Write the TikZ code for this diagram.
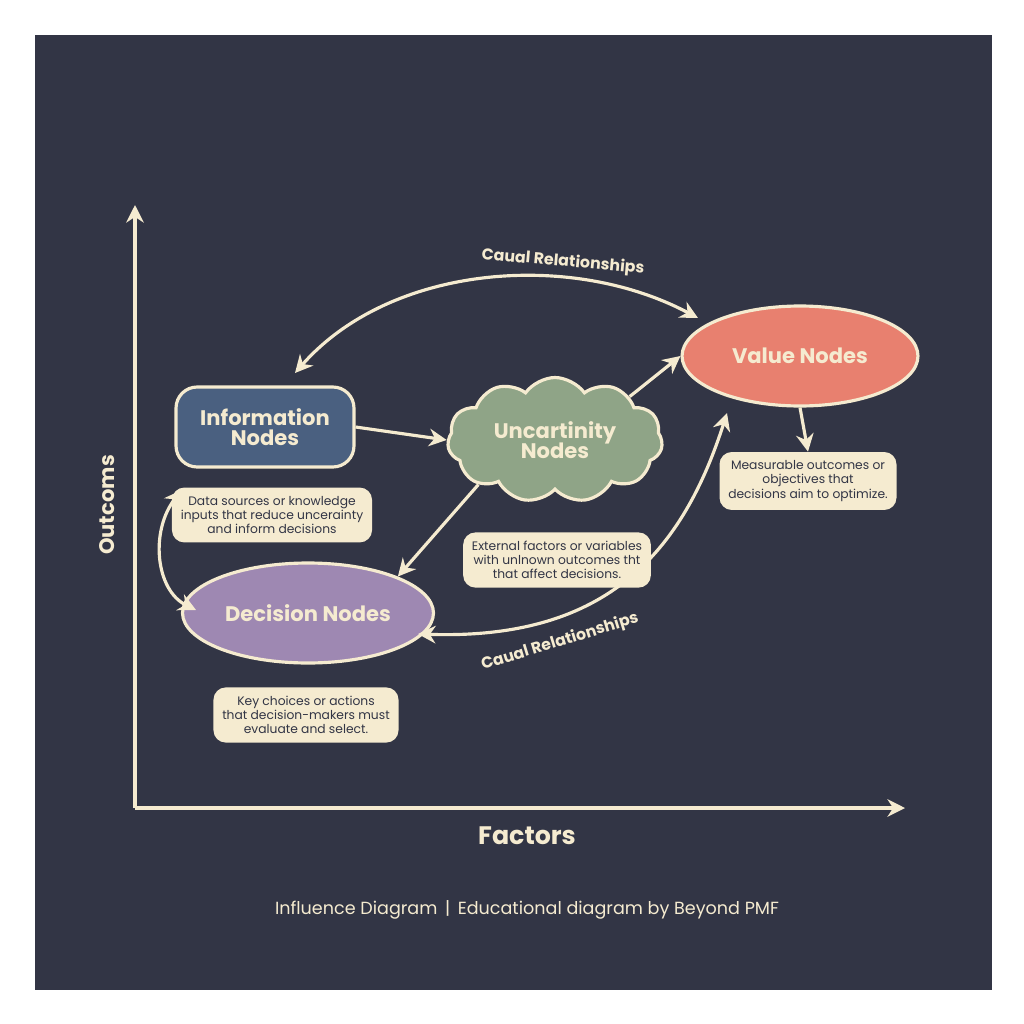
\documentclass[tikz,border=0pt]{standalone}
\usepackage{fontspec}
\setmainfont{Poppins}
\usetikzlibrary{shapes.geometric,shapes.symbols,arrows.meta}

\definecolor{bgdark}{HTML}{323545}
\definecolor{cream}{HTML}{F5EBD0}
\definecolor{infoblue}{HTML}{4A6080}
\definecolor{uncgreen}{HTML}{8FA487}
\definecolor{valred}{HTML}{E8806F}
\definecolor{decpurple}{HTML}{9E88B2}

\tikzset{
    main/.style={draw=cream, line width=1.8pt, text=cream, font=\bfseries\large, align=center},
    note/.style={fill=cream, rounded corners=7pt, text=bgdark, font=\scriptsize, align=center, inner sep=5pt},
    link/.style={cream, line width=1.8pt, -{Stealth[length=10pt,width=10pt]}},
    twolink/.style={cream, line width=1.8pt, {Stealth[length=10pt,width=10pt]}-{Stealth[length=10pt,width=10pt]}}
}

\begin{document}
\begin{tikzpicture}[x=0.02cm,y=-0.02cm]

\useasboundingbox (0,0) rectangle (1024,1024);
\fill[white] (0,0) rectangle (1024,1024);
\fill[bgdark] (35,35) rectangle (992,990);

% axes
\coordinate (origin) at (135,808);
\coordinate (ytop) at (135,205);
\coordinate (xend) at (905,808);
\draw[link] (origin) -- (ytop);
\draw[link] (origin) -- (xend);
\node[text=cream, font=\bfseries\large, rotate=90] (ylab) at (107,505) {Outcoms};
\node[text=cream, font=\bfseries\Large] (xlab) at (527,836) {Factors};
\node[text=cream] (footer) at (527,910) {Influence Diagram \,|\, Educational diagram by Beyond PMF};

% main nodes
\node[main, fill=infoblue, rounded corners=12pt, minimum width=3.56cm, minimum height=1.6cm] (info) at (265,427) {Information\\[-3pt]Nodes};
\node[main, fill=uncgreen, cloud, cloud puffs=11, cloud puff arc=110, aspect=1.7, minimum width=4.3cm, minimum height=2.5cm, inner sep=0pt] (uncert) at (555,440) {Uncartinity\\[-3pt]Nodes};
\node[main, fill=valred, ellipse, minimum width=4.72cm, minimum height=2.0cm] (value) at (800,356) {Value Nodes};
\node[main, fill=decpurple, ellipse, minimum width=4.2cm, minimum height=2.0cm] (decision) at (308,613) {Decision Nodes};

% notes
\node[note] (infonote) at (272,515) {Data sources or knowledge\\inputs that reduce uncerainty\\and inform decisions};
\node[note] (uncnote) at (557,560) {External factors or variables\\with unlnown outcomes tht\\that affect decisions.};
\node[note] (valnote) at (808,481) {Measurable outcomes or\\objectives that\\decisions aim to optimize.};
\node[note] (decnote) at (306,715) {Key choices or actions\\that decision-makers must\\evaluate and select.};

% connectors
\draw[link] (info.east) -- (uncert.west);
\draw[link] (uncert.north east) -- (value.west);
\draw[link] (uncert.south west) -- (decision.north east);
\draw[link] (value.south) -- (valnote.north);
\coordinate (topr) at (698,318);
\coordinate (topl) at (295,373);
\draw[twolink] (topr) .. controls (570,250) and (390,265) .. (topl);
\coordinate (botl) at (418,634);
\coordinate (botr) at (727,413);
\draw[twolink] (botl) .. controls (600,640) and (680,560) .. (botr);
\coordinate (lefttop) at (182,490);
\coordinate (leftbot) at (196,610);
\draw[twolink] (lefttop) .. controls (150,530) and (155,590) .. (leftbot);
\node[text=cream, font=\bfseries\small, rotate=-5] (toplab) at (563,262) {Caual Relationships};
\node[text=cream, font=\bfseries\small, rotate=17] (botlab) at (560,642) {Caual Relationships};

\end{tikzpicture}
\end{document}
